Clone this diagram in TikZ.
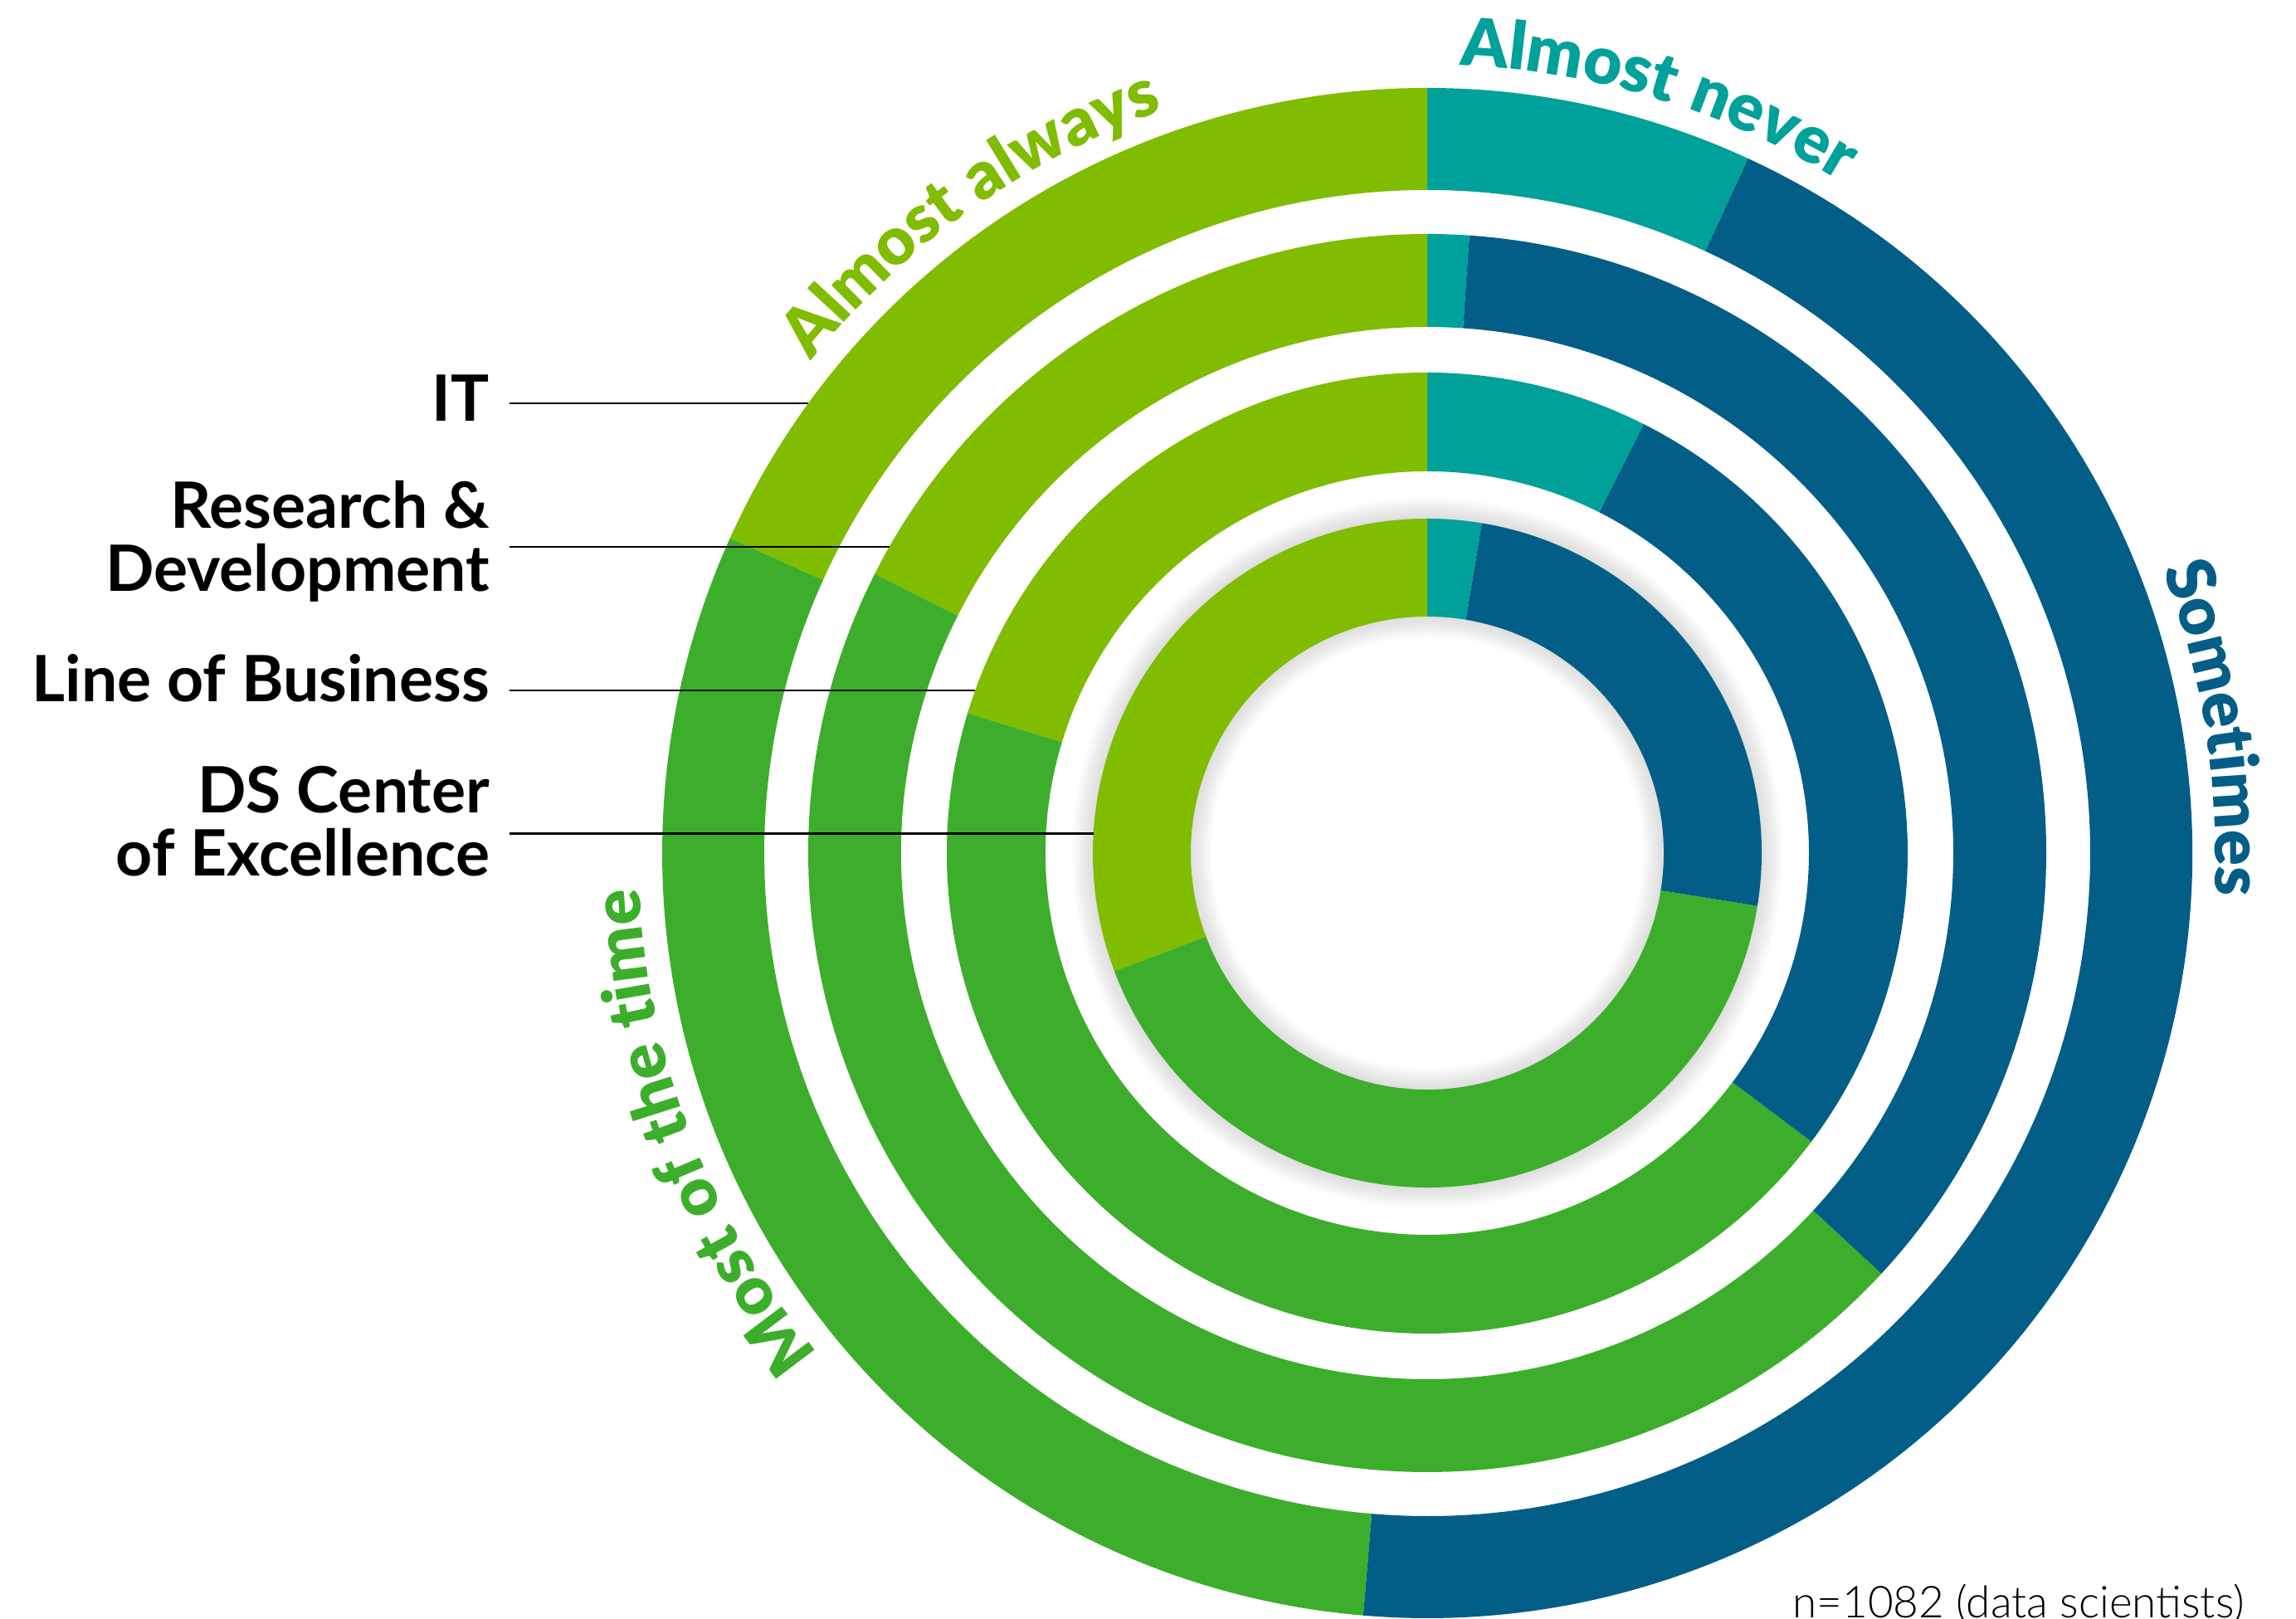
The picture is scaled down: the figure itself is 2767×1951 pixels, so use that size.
\documentclass[tikz,border=0pt]{standalone}
\usepackage{fontspec}
\setmainfont{Lato}
\newfontfamily\ringfont[LetterSpace=3]{Lato Black}
\newfontfamily\notefont{Lato Light}
\usetikzlibrary{decorations.text}

\definecolor{almostalways}{RGB}{128,188,0}
\definecolor{mostofthetime}{RGB}{61,174,43}
\definecolor{sometimes}{RGB}{3,94,135}
\definecolor{almostnever}{RGB}{0,161,154}

\begin{document}
\begin{tikzpicture}[x=0.1pt,y=0.1pt,
  leader/.style={black,line width=0.25pt},
  lbl/.style={font=\bfseries\fontsize{7.7}{7.6}\selectfont,align=right,inner xsep=2.2pt,inner ysep=0pt},
  note/.style={font=\notefont\fontsize{5.3}{6.5}\selectfont,inner sep=0pt},
  ringtext/.style 2 args={decorate,decoration={text along path,text align=center,text color=#1,
    text={|\ringfont\fontsize{8}{9.6}\selectfont|#2}}}]
 \useasboundingbox (-1720,-923) rectangle (1047,1028);

 % soft shadow round the inner ring
 \foreach \w in {5,10,...,50}
  \draw[black!70,opacity=0.02,line width=\w*0.1pt] (0,0) circle[radius=403] (0,0) circle[radius=285];

 % IT
 \fill[almostnever] (65.2:799) arc[start angle=65.2,end angle=90,radius=799] -- (90:922) arc[start angle=90,end angle=65.2,radius=922] -- cycle;
 \fill[almostalways] (90:799) arc[start angle=90,end angle=155.7,radius=799] -- (155.7:922) arc[start angle=155.7,end angle=90,radius=922] -- cycle;
 \fill[mostofthetime] (155.7:799) arc[start angle=155.7,end angle=265.2,radius=799] -- (265.2:922) arc[start angle=265.2,end angle=155.7,radius=922] -- cycle;
 \fill[sometimes] (-94.8:799) arc[start angle=-94.8,end angle=65.2,radius=799] -- (65.2:922) arc[start angle=65.2,end angle=-94.8,radius=922] -- cycle;
 % Research & Development
 \fill[almostnever] (86.1:634) arc[start angle=86.1,end angle=90,radius=634] -- (90:746) arc[start angle=90,end angle=86.1,radius=746] -- cycle;
 \fill[almostalways] (90:634) arc[start angle=90,end angle=153.2,radius=634] -- (153.2:746) arc[start angle=153.2,end angle=90,radius=746] -- cycle;
 \fill[mostofthetime] (153.2:634) arc[start angle=153.2,end angle=317.2,radius=634] -- (317.2:746) arc[start angle=317.2,end angle=153.2,radius=746] -- cycle;
 \fill[sometimes] (-42.8:634) arc[start angle=-42.8,end angle=86.1,radius=634] -- (86.1:746) arc[start angle=86.1,end angle=-42.8,radius=746] -- cycle;
 % Line of Business
 \fill[almostnever] (63.2:460) arc[start angle=63.2,end angle=90,radius=460] -- (90:579) arc[start angle=90,end angle=63.2,radius=579] -- cycle;
 \fill[almostalways] (90:460) arc[start angle=90,end angle=163.1,radius=460] -- (163.1:579) arc[start angle=163.1,end angle=90,radius=579] -- cycle;
 \fill[mostofthetime] (163.1:460) arc[start angle=163.1,end angle=323.1,radius=460] -- (323.1:579) arc[start angle=323.1,end angle=163.1,radius=579] -- cycle;
 \fill[sometimes] (-36.9:460) arc[start angle=-36.9,end angle=63.2,radius=460] -- (63.2:579) arc[start angle=63.2,end angle=-36.9,radius=579] -- cycle;
 % DS Center of Excellence
 \fill[almostnever] (80.6:285) arc[start angle=80.6,end angle=90,radius=285] -- (90:403) arc[start angle=90,end angle=80.6,radius=403] -- cycle;
 \fill[almostalways] (90:285) arc[start angle=90,end angle=200.7,radius=285] -- (200.7:403) arc[start angle=200.7,end angle=90,radius=403] -- cycle;
 \fill[mostofthetime] (200.7:285) arc[start angle=200.7,end angle=350.9,radius=285] -- (350.9:403) arc[start angle=350.9,end angle=200.7,radius=403] -- cycle;
 \fill[sometimes] (-9.1:285) arc[start angle=-9.1,end angle=80.6,radius=285] -- (80.6:403) arc[start angle=80.6,end angle=-9.1,radius=403] -- cycle;

 % answers round the outside, clockwise
 \path[ringtext={almostalways}{Almost always}] (170.5:950) arc[start angle=170.5,end angle=80.5,radius=950];
 \path[ringtext={almostnever}{Almost never}] (118:950) arc[start angle=118,end angle=28,radius=950];
 \path[ringtext={sometimes}{Sometimes}] (54:950) arc[start angle=54,end angle=-36,radius=950];
 \path[ringtext={mostofthetime}{Most of the time}] (246:950) arc[start angle=246,end angle=156,radius=950];

 % groups (base = last line)
 \node[lbl,anchor=base east] (it) at (-1106,520) {IT};
 \node[lbl,anchor=base east] (rd) at (-1106,315.5) {Research \&\\Development};
 \node[lbl,anchor=base east] (lob) at (-1106,182) {Line of Business};
 \node[lbl,anchor=base east] (ds) at (-1106,-27.5) {DS Center\\of Excellence};

 \coordinate (itend) at (144:922);
 \coordinate (rdend) at (150.35:746);
 \coordinate (lobend) at (160.2:579);
 \coordinate (dsend) at (176.66:403);
 \draw[leader] (it.east |- itend) -- (itend);
 \draw[leader] (rd.east |- rdend) -- (rdend);
 \draw[leader] (lob.east |- lobend) -- (lobend);
 \draw[leader] (ds.east |- dsend) -- (dsend);

 \node[note,anchor=base east] (n) at (987,-921) {n=1082 (data scientists)};
\end{tikzpicture}
\end{document}
